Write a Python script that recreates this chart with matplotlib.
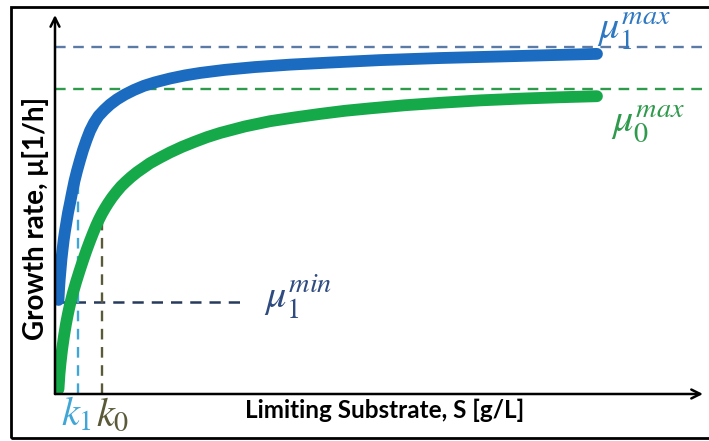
import matplotlib
matplotlib.use("Agg")
import matplotlib.pyplot as plt
from matplotlib.patches import Rectangle

plt.rcParams["mathtext.fontset"] = "stix"

# substrate S (arbitrary units) and growth rate mu
s_blue = [0.58, 0.67, 0.78, 0.92, 1.08, 1.25, 1.45, 1.67, 1.92, 2.17, 2.5,
          2.83, 3.25, 3.67, 4.17, 4.67, 5.25, 5.83, 6.5, 7.25, 8.17, 9.17,
          10.33, 11.67, 13.17, 14.83, 16.67, 19.17, 21.67, 24.17, 28.33,
          33.33, 39.17, 45.83, 54.17, 64.17, 77.5, 90.33]
mu_blue = [0.271, 0.300, 0.329, 0.357, 0.389, 0.415, 0.444, 0.470, 0.496,
           0.522, 0.550, 0.579, 0.614, 0.643, 0.674, 0.703, 0.732, 0.758,
           0.781, 0.801, 0.818, 0.834, 0.849, 0.863, 0.876, 0.888, 0.898,
           0.909, 0.918, 0.925, 0.934, 0.942, 0.949, 0.955, 0.962, 0.968,
           0.974, 0.980]

s_green = [0.58, 0.75, 0.92, 1.17, 1.5, 1.83, 2.17, 2.5, 3.0, 3.5, 4.08, 4.67,
           5.25, 5.83, 6.33, 6.83, 7.33, 7.83, 8.33, 8.83, 9.5, 10.17, 11.0,
           11.83, 12.67, 13.67, 14.67, 15.83, 17.5, 19.17, 21.17, 23.33,
           25.33, 27.5, 31.67, 35.83, 40.0, 44.17, 48.33, 52.5, 58.33, 64.17,
           70.83, 77.5, 84.17, 90.33]
mu_green = [0.014, 0.058, 0.089, 0.127, 0.167, 0.202, 0.232, 0.258, 0.292,
            0.322, 0.354, 0.385, 0.414, 0.441, 0.463, 0.484, 0.503, 0.520,
            0.535, 0.549, 0.566, 0.581, 0.598, 0.612, 0.625, 0.639, 0.651,
            0.665, 0.681, 0.696, 0.712, 0.727, 0.740, 0.752, 0.771, 0.786,
            0.797, 0.807, 0.816, 0.823, 0.832, 0.839, 0.846, 0.851, 0.855,
            0.858]

mu1_max = 1.0
mu0_max = 0.879
mu1_min = 0.265
k1 = 3.9
k0 = 7.8
mu_at_k1 = 0.625
mu_at_k0 = 0.507
min_line_end = 32

W, H = 709, 441
fig = plt.figure(figsize=(W / 100, H / 100), dpi=100)
ax = fig.add_axes([55 / W, 47 / H, 648 / W, 379 / H])
ax.set_xlim(0, 108)
ax.set_ylim(0, 1.092)
ax.axis("off")

dash = (4.5, 3.2)
ax.plot([0, 109.5], [mu1_max, mu1_max], color="#5b7aa6", lw=1.7, dashes=dash, clip_on=False)
ax.plot([0, 109.5], [mu0_max, mu0_max], color="#2e9a4c", lw=1.7, dashes=dash, clip_on=False)
ax.plot([0, min_line_end], [mu1_min, mu1_min], color="#273a5c", lw=1.8, dashes=dash)
ax.plot([k1, k1], [0, mu_at_k1], color="#3fa6d6", lw=1.7, dashes=dash)
ax.plot([k0, k0], [0, mu_at_k0], color="#5a5a38", lw=1.7, dashes=dash)

curve = dict(lw=8.5, solid_capstyle="round", solid_joinstyle="round")
ax.plot(s_green, mu_green, color="#16a94a", **curve)
ax.plot(s_blue, mu_blue, color="#1b6cc0", **curve)

arrow = dict(arrowstyle="->", lw=1.8, color="black", shrinkA=0, shrinkB=0,
             mutation_scale=16)
ax.annotate("", xy=(108, 0), xytext=(0, 0), arrowprops=arrow, annotation_clip=False)
ax.annotate("", xy=(0, 1.092), xytext=(0, 0), arrowprops=arrow, annotation_clip=False)


def px(x, y):
    return x / W, 1 - y / H


fig.text(*px(36, 218), "Growth rate, \u03bc[1/h]", rotation=90, ha="center",
         va="center", fontsize=20, fontweight="bold", family="Lato")
fig.text(*px(385, 410), "Limiting Substrate, S [g/L]", ha="center",
         va="center", fontsize=17.5, fontweight="bold", family="Lato")

math = dict(fontsize=29, ha="left", va="baseline")
fig.text(*px(597, 39), r"$\mu_1^{max}$", color="#2e78c2", **math)
fig.text(*px(611, 131), r"$\mu_0^{max}$", color="#2e9a4c", **math)
fig.text(*px(264, 308), r"$\mu_1^{min}$", color="#2f4b80", **math)
fig.text(*px(61, 426), r"$k_1$", color="#3fa6d6", **math)
fig.text(*px(96, 426), r"$k_0$", color="#5a5a38", **math)

fig.add_artist(Rectangle((11 / W, 3 / H), 1.1, 431 / H, transform=fig.transFigure,
                         fill=False, lw=2, edgecolor="black"))

fig.savefig("out.png", dpi=100)
